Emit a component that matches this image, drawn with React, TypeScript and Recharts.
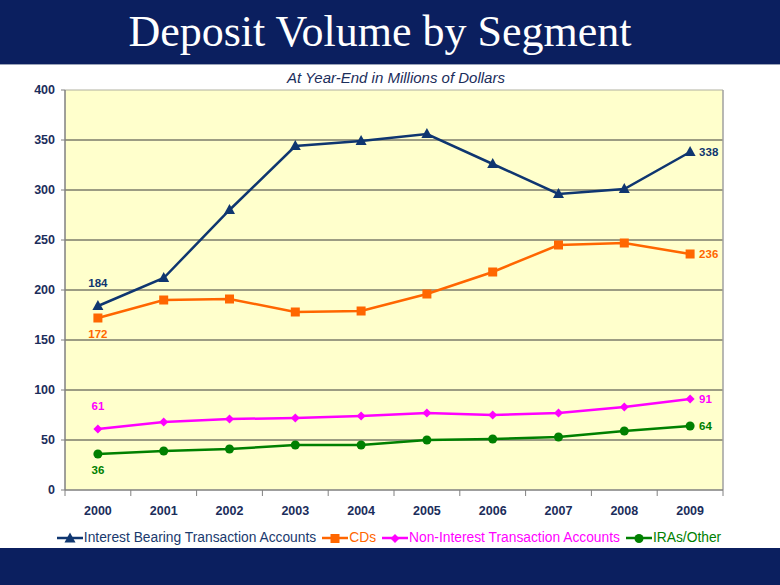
import React from 'react';
import { LineChart, Line, XAxis, YAxis, ReferenceLine, ReferenceArea, LabelList } from 'recharts';

const years = ['2000', '2001', '2002', '2003', '2004', '2005', '2006', '2007', '2008', '2009'];
const interestBearing = [184, 212, 280, 344, 349, 356, 326, 296, 301, 338];
const cds = [172, 190, 191, 178, 179, 196, 218, 245, 247, 236];
const nonInterest = [61, 68, 71, 72, 74, 77, 75, 77, 83, 91];
const iras = [36, 39, 41, 45, 45, 50, 51, 53, 59, 64];
const yTicks = [0, 50, 100, 150, 200, 250, 300, 350, 400];
const gridValues = [50, 100, 150, 200, 250, 300, 350];
const bandEdges = [-0.5, 0.5, 1.5, 2.5, 3.5, 4.5, 5.5, 6.5, 7.5, 8.5, 9.5];

const data = years.map((year, i) => ({
  idx: i,
  year,
  ib: interestBearing[i],
  cd: cds[i],
  ni: nonInterest[i],
  ira: iras[i],
}));

const NAVY = '#0b1f5f';
const FONT = 'Arial, "Liberation Sans", sans-serif';

type Shape = 'triangle' | 'square' | 'diamond' | 'circle';

const series: { key: string; name: string; color: string; textColor: string; shape: Shape; firstAbove: boolean }[] = [
  { key: 'ib', name: 'Interest Bearing Transaction Accounts', color: '#0f3670', textColor: '#1a3a6e', shape: 'triangle', firstAbove: true },
  { key: 'cd', name: 'CDs', color: '#ff6600', textColor: '#ff6600', shape: 'square', firstAbove: false },
  { key: 'ni', name: 'Non-Interest Transaction Accounts', color: '#ff00ff', textColor: '#ff00ff', shape: 'diamond', firstAbove: true },
  { key: 'ira', name: 'IRAs/Other', color: '#008000', textColor: '#008000', shape: 'circle', firstAbove: false },
];

const Marker = ({ cx, cy, shape, color }: { cx: number; cy: number; shape: Shape; color: string }) => {
  if (cx == null || cy == null) return null;
  if (shape === 'triangle')
    return <polygon points={`${cx},${cy - 6} ${cx - 5.5},${cy + 4} ${cx + 5.5},${cy + 4}`} fill={color} />;
  if (shape === 'square') return <rect x={cx - 4.5} y={cy - 4.5} width={9} height={9} fill={color} />;
  if (shape === 'diamond')
    return <polygon points={`${cx},${cy - 4.5} ${cx + 4.5},${cy} ${cx},${cy + 4.5} ${cx - 4.5},${cy}`} fill={color} />;
  return <circle cx={cx} cy={cy} r={4.5} fill={color} />;
};

const makeDot = (shape: Shape, color: string) => (props: any) => (
  <Marker key={`${shape}-${props.index}`} cx={props.cx} cy={props.cy} shape={shape} color={color} />
);

const makeLabel = (color: string, firstAbove: boolean) => (props: any) => {
  const { x, y, index, value } = props;
  const last = data.length - 1;
  if (index !== 0 && index !== last) return null;
  if (index === last) {
    return (
      <text x={x + 9} y={y + 4} fill={color} fontSize={11.5} fontWeight="bold" fontFamily={FONT} textAnchor="start">
        {value}
      </text>
    );
  }
  return (
    <text x={x} y={firstAbove ? y - 19 : y + 20} fill={color} fontSize={11.5} fontWeight="bold" fontFamily={FONT} textAnchor="middle">
      {value}
    </text>
  );
};

const LegendIcon = ({ shape, color }: { shape: Shape; color: string }) => (
  <svg width={26} height={12} style={{ verticalAlign: 'middle', marginRight: 1 }}>
    <line x1={0} y1={6} x2={26} y2={6} stroke={color} strokeWidth={2.5} />
    <Marker cx={13} cy={6.5} shape={shape} color={color} />
  </svg>
);

const EmptyTick = () => <g />;

export default function App() {
  return (
    <div style={{ position: 'fixed', left: 0, top: 0, width: 780, height: 585, background: '#ffffff', overflow: 'hidden' }}>
      <div style={{ position: 'absolute', left: 0, top: 0, width: 780, height: 64, background: NAVY, borderBottom: '1px solid #9aa3b8' }} />
      <div
        style={{
          position: 'absolute',
          left: 0,
          top: 6,
          width: 760,
          textAlign: 'center',
          color: '#ffffff',
          fontFamily: '"Liberation Serif", "Times New Roman", serif',
          fontSize: 44,
          lineHeight: '52px',
        }}
      >
        Deposit Volume by Segment
      </div>
      <div style={{ position: 'absolute', left: 0, top: 548, width: 780, height: 37, background: NAVY }} />
      <div
        style={{
          position: 'absolute',
          left: 0,
          top: 69,
          width: 792,
          textAlign: 'center',
          color: '#1b2d5b',
          fontFamily: FONT,
          fontStyle: 'italic',
          fontSize: 15,
        }}
      >
        At Year-End in Millions of Dollars
      </div>
      <div style={{ position: 'absolute', left: 0, top: 0 }}>
        <LineChart width={780} height={585} data={data} margin={{ top: 90, right: 57, left: 15, bottom: 65 }}>
          <XAxis
            xAxisId="edge"
            type="number"
            dataKey="idx"
            domain={[-0.5, 9.5]}
            ticks={bandEdges}
            tick={EmptyTick}
            tickSize={6}
            height={6}
            axisLine={{ stroke: '#808080' }}
            tickLine={{ stroke: '#808080' }}
            interval={0}
          />
          <XAxis
            xAxisId="year"
            type="number"
            dataKey="idx"
            domain={[-0.5, 9.5]}
            ticks={years.map((_, i) => i)}
            tickFormatter={(v: number) => years[v]}
            axisLine={false}
            tickLine={false}
            height={24}
            tickMargin={4}
            interval={0}
            tick={{ fill: '#1b2d5b', fontSize: 12.5, fontWeight: 'bold', fontFamily: FONT }}
          />
          <YAxis
            type="number"
            domain={[0, 400]}
            ticks={yTicks}
            width={50}
            tickSize={4}
            tickMargin={6}
            interval={0}
            axisLine={{ stroke: '#808080' }}
            tickLine={{ stroke: '#808080' }}
            tick={{ fill: '#1b2d5b', fontSize: 12.5, fontWeight: 'bold', fontFamily: FONT }}
          />
          <ReferenceArea xAxisId="edge" x1={-0.5} x2={9.5} y1={0} y2={400} fill="#ffffcc" fillOpacity={1} stroke="none" />
          {gridValues.map((v) => (
            <ReferenceLine key={v} xAxisId="edge" y={v} stroke="#3a3a3a" strokeWidth={1} />
          ))}
          <ReferenceLine xAxisId="edge" y={400} stroke="#b0b0a0" strokeWidth={1} />
          <ReferenceLine xAxisId="edge" x={9.5} stroke="#a0a0a0" strokeWidth={1.5} />
          <ReferenceLine xAxisId="edge" x={-0.5} stroke="#808080" strokeWidth={1} />
          <ReferenceLine xAxisId="edge" y={0} stroke="#808080" strokeWidth={1} />
          {series.map((s) => (
            <Line
              key={s.key}
              xAxisId="edge"
              type="linear"
              dataKey={s.key}
              name={s.name}
              stroke={s.color}
              strokeWidth={2.5}
              dot={makeDot(s.shape, s.color)}
              activeDot={false}
              isAnimationActive={false}
            >
              <LabelList dataKey={s.key} content={makeLabel(s.color, s.firstAbove)} />
            </Line>
          ))}
        </LineChart>
      </div>
      <div
        style={{
          position: 'absolute',
          left: 0,
          top: 529,
          width: 784,
          textAlign: 'center',
          fontFamily: FONT,
          fontSize: 13.8,
          whiteSpace: 'nowrap',
          lineHeight: '18px',
        }}
      >
        {series.map((s) => (
          <span key={s.key} style={{ color: s.textColor, marginRight: 6 }}>
            <LegendIcon shape={s.shape} color={s.color} />
            {s.name}
          </span>
        ))}
      </div>
    </div>
  );
}
